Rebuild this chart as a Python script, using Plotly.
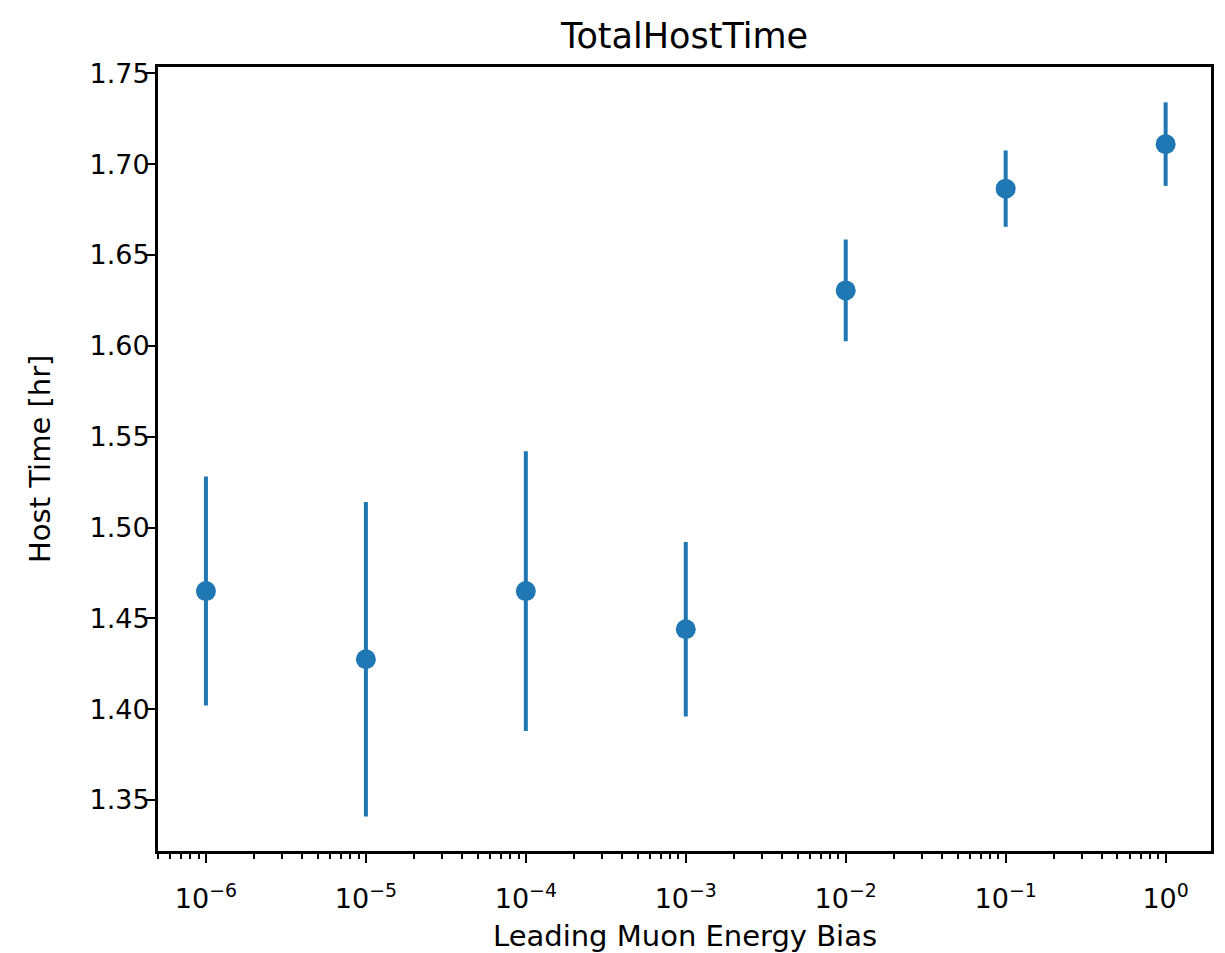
import plotly.graph_objects as go

bias = [1e-6, 1e-5, 1e-4, 1e-3, 1e-2, 1e-1, 1e0]
host_time = [1.465, 1.4275, 1.465, 1.444, 1.6305, 1.6865, 1.711]
host_err = [0.063, 0.0865, 0.077, 0.048, 0.028, 0.021, 0.023]

decades = [-6, -5, -4, -3, -2, -1, 0]
tick_labels = ["10<sup>\u22126</sup>", "10<sup>\u22125</sup>", "10<sup>\u22124</sup>",
               "10<sup>\u22123</sup>", "10<sup>\u22122</sup>", "10<sup>\u22121</sup>", "10<sup>0</sup>"]

major_vals = [10.0 ** d for d in decades]
minor_vals = [m * 10.0 ** d for d in [-7] + decades for m in range(2, 10)]

blue = "#1f77b4"
FONT = "DejaVu Sans"

fig = go.Figure()
fig.add_trace(go.Scatter(
    x=bias, y=host_time, mode="markers",
    marker=dict(color=blue, size=20),
    error_y=dict(type="data", array=host_err, color=blue, thickness=4, width=0),
    showlegend=False,
))

axis_common = dict(showline=True, linecolor="black", linewidth=2, mirror=True,
                   ticks="outside", tickcolor="black", ticklen=9, tickwidth=2,
                   showgrid=False, zeroline=False, automargin=False,
                   tickfont=dict(family=FONT, size=27, color="black"))

fig.update_layout(
    template="none",
    width=1225, height=953,
    paper_bgcolor="white", plot_bgcolor="white",
    margin=dict(l=157, r=13, t=66, b=101, pad=0),
    title=dict(text="TotalHostTime", x=(157 + 1212) / 2 / 1225, xanchor="center",
               yref="container", y=1 - 36 / 953, yanchor="middle",
               font=dict(family=FONT, size=35, color="black")),
    font=dict(family=FONT, color="black"),
    xaxis=dict(type="log", range=[-6.306, 0.29], tickmode="array",
               tickvals=major_vals, ticktext=tick_labels, ticklabelstandoff=13,
               minor=dict(tickmode="array", tickvals=minor_vals, ticks="outside",
                          ticklen=5, tickwidth=1.5, tickcolor="black"),
               **axis_common),
    yaxis=dict(range=[1.3214, 1.754], dtick=0.05, tick0=1.35, tickformat=".2f",
               ticklabelstandoff=-9,
               **axis_common),
    shapes=[dict(type="rect", xref="paper", yref="paper", x0=0, y0=0, x1=1, y1=1,
                 line=dict(color="black", width=2), fillcolor="rgba(0,0,0,0)",
                 layer="above")],
    annotations=[
        dict(text="Leading Muon Energy Bias", xref="paper", yref="paper",
             x=0.5, y=0, xanchor="center", yanchor="middle", yshift=-84,
             showarrow=False, font=dict(family=FONT, size=29, color="black")),
        dict(text="Host Time [hr]", xref="paper", yref="paper",
             x=0, y=0.5, xanchor="center", yanchor="middle", xshift=-117,
             textangle=-90, showarrow=False,
             font=dict(family=FONT, size=29, color="black")),
    ],
)

fig.write_html("out.html",
               config={"displayModeBar": False},
               post_script="document.documentElement.style.margin='0';"
                           "document.body.style.margin='0';"
                           "document.body.style.overflow='hidden';")
